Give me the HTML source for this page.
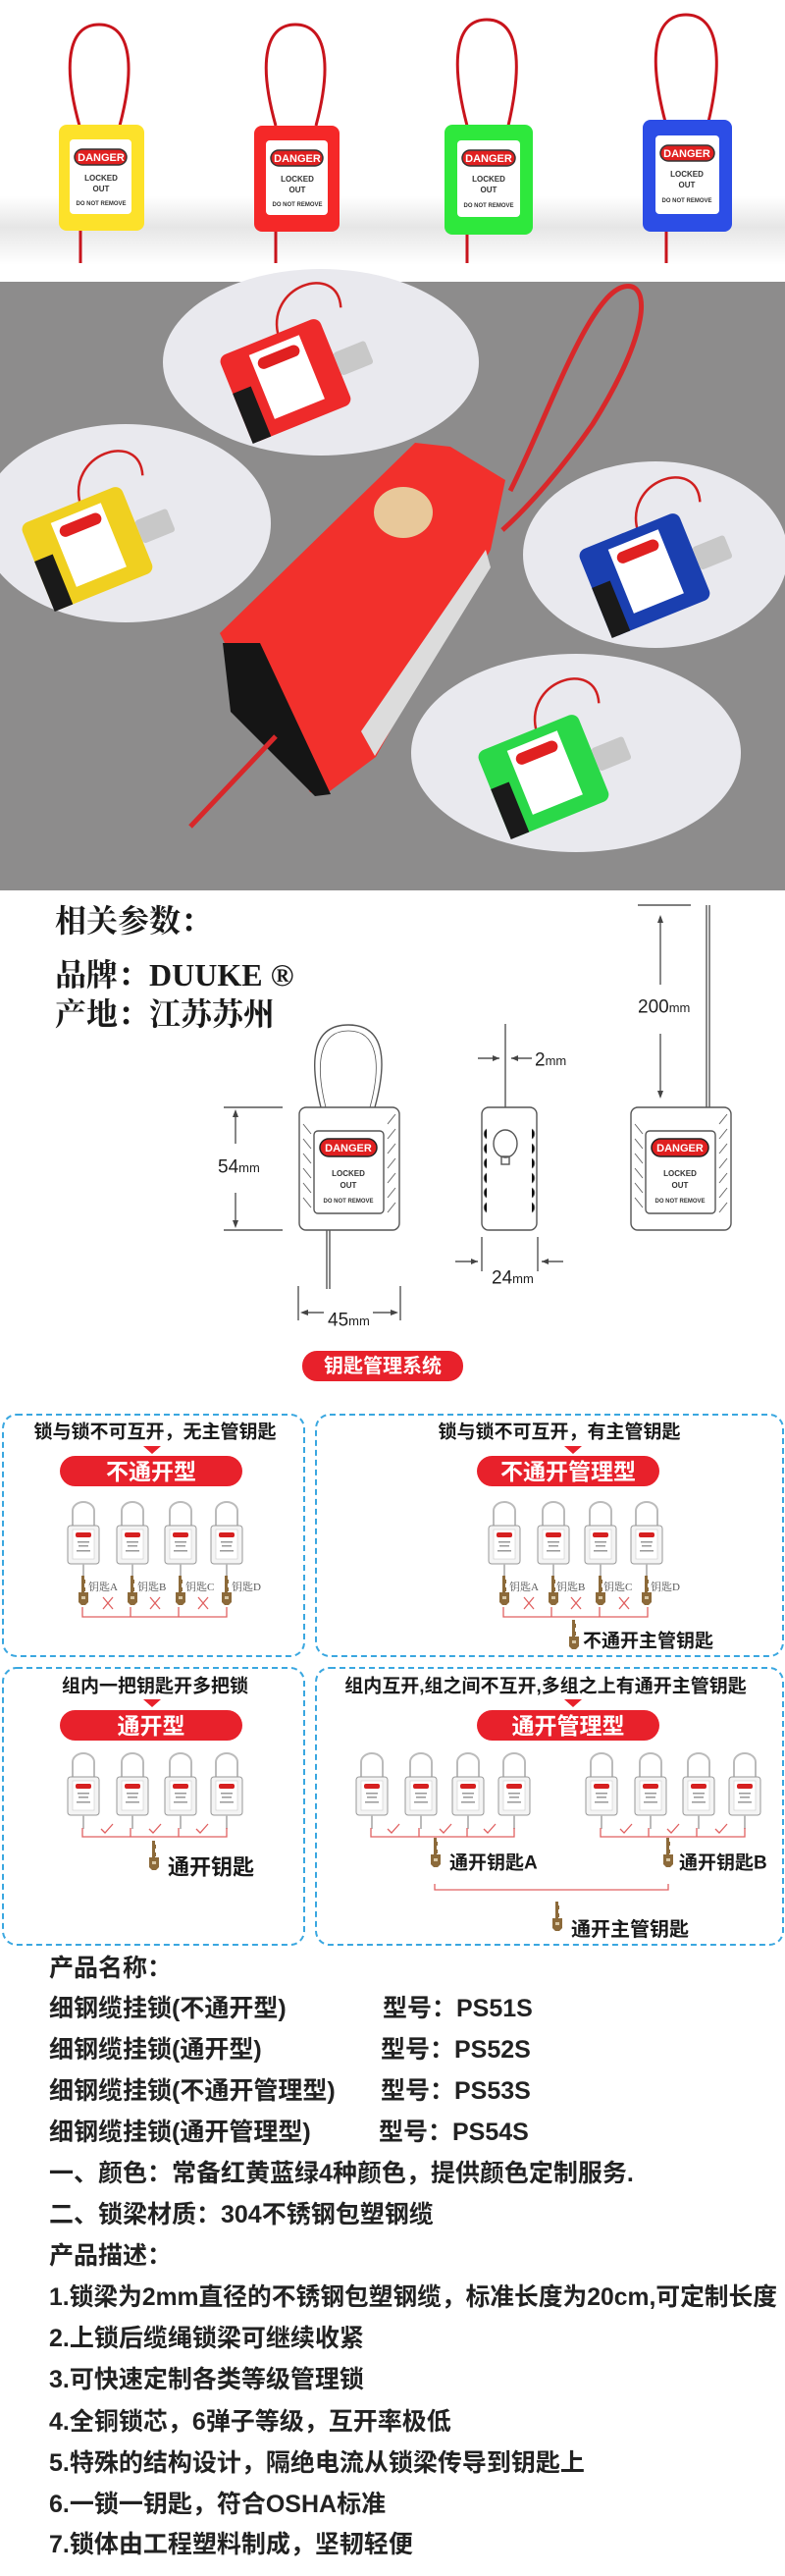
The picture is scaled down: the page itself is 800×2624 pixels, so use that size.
<!DOCTYPE html>
<html><head><meta charset="utf-8"><style>
html,body{margin:0;padding:0;background:#fff;}
svg{display:block;}
</style></head><body>
<svg width="800" height="2624" viewBox="0 0 800 2624" xmlns="http://www.w3.org/2000/svg" font-family="'Liberation Sans','Noto Sans CJK SC',sans-serif">
<defs>
<linearGradient id="floor" x1="0" y1="0" x2="0" y2="1">
<stop offset="0" stop-color="#fff"/><stop offset="0.45" stop-color="#e6e6e6"/><stop offset="1" stop-color="#fff"/>
</linearGradient>
<symbol id="sl" viewBox="0 0 36 80" width="36" height="80">
<path d="M7 26 V10 A11 9 0 0 1 29 10 V26" fill="none" stroke="#bbb" stroke-width="2"/>
<rect x="2" y="25" width="32" height="39" rx="3" fill="#f4f4f4" stroke="#999" stroke-width="1"/>
<rect x="7" y="29" width="22" height="30" fill="#fff" stroke="#ccc" stroke-width="0.6"/>
<rect x="10" y="32" width="16" height="5" rx="2" fill="#d62020"/>
<rect x="12" y="41" width="12" height="1.5" fill="#999"/><rect x="13" y="45" width="10" height="1.5" fill="#999"/><rect x="11" y="50" width="14" height="1.5" fill="#999"/>
<line x1="18" y1="64" x2="18" y2="78" stroke="#bbb" stroke-width="2"/>
</symbol>
<symbol id="key" viewBox="0 0 14 30" width="14" height="30">
<path d="M5 0 H8 V4 H9 V8 H8 V12 H9 V16 H8 V17 H12 V27 L9 30 H5 L2 27 V17 H5 Z" fill="#8c6a3a"/>
<rect x="5" y="21" width="4" height="3" fill="#d8c7a4"/>
</symbol>
</defs>

<rect x="0" y="200" width="800" height="70" fill="url(#floor)"/>
<g stroke="#c8141c" stroke-width="3" fill="none">
<path d="M81 128 C62 60 72 25 101 25 C130 25 140 60 122 128"/><line x1="82" y1="235" x2="82" y2="268"/>
<path d="M281 128 C262 60 272 25 301 25 C330 25 340 60 322 128"/><line x1="281" y1="236" x2="281" y2="268"/>
<path d="M476 128 C457 55 467 20 496 20 C525 20 535 55 518 128"/><line x1="476" y1="239" x2="476" y2="268"/>
<path d="M678 124 C659 52 669 15 699 15 C729 15 739 52 722 124"/><line x1="679" y1="236" x2="679" y2="268"/>
</g>
<g font-weight="bold" text-anchor="middle">
<g transform="translate(60,127)"><rect width="87" height="108" rx="8" fill="#fde22a"/><rect x="11" y="15" width="63" height="76" rx="4" fill="#fff"/><rect x="16" y="25" width="53" height="16" rx="8" fill="#e02020" stroke="#333" stroke-width="1.5"/><text x="43" y="37" font-size="11" fill="#fff">DANGER</text><text x="43" y="57" font-size="8" fill="#333">LOCKED</text><text x="43" y="68" font-size="8" fill="#333">OUT</text><text x="43" y="82" font-size="6" fill="#333">DO NOT REMOVE</text></g>
<g transform="translate(259,128)"><rect width="87" height="108" rx="8" fill="#f52828"/><rect x="12" y="15" width="63" height="76" rx="4" fill="#fff"/><rect x="17" y="25" width="53" height="16" rx="8" fill="#e02020" stroke="#333" stroke-width="1.5"/><text x="44" y="37" font-size="11" fill="#fff">DANGER</text><text x="44" y="57" font-size="8" fill="#333">LOCKED</text><text x="44" y="68" font-size="8" fill="#333">OUT</text><text x="44" y="82" font-size="6" fill="#333">DO NOT REMOVE</text></g>
<g transform="translate(453,127)"><rect width="90" height="112" rx="8" fill="#2ee83c"/><rect x="13" y="16" width="64" height="78" rx="4" fill="#fff"/><rect x="18" y="26" width="54" height="16" rx="8" fill="#e02020" stroke="#333" stroke-width="1.5"/><text x="45" y="38" font-size="11" fill="#fff">DANGER</text><text x="45" y="58" font-size="8" fill="#333">LOCKED</text><text x="45" y="69" font-size="8" fill="#333">OUT</text><text x="45" y="84" font-size="6" fill="#333">DO NOT REMOVE</text></g>
<g transform="translate(655,122)"><rect width="91" height="114" rx="8" fill="#2c4de6"/><rect x="13" y="16" width="65" height="80" rx="4" fill="#fff"/><rect x="18" y="26" width="55" height="16" rx="8" fill="#e02020" stroke="#333" stroke-width="1.5"/><text x="45" y="38" font-size="11" fill="#fff">DANGER</text><text x="45" y="58" font-size="8" fill="#333">LOCKED</text><text x="45" y="69" font-size="8" fill="#333">OUT</text><text x="45" y="84" font-size="6" fill="#333">DO NOT REMOVE</text></g>
</g>

<rect x="0" y="287" width="800" height="620" fill="#8d8c8c"/>
<ellipse cx="327" cy="369" rx="161" ry="95" fill="#e9e9ee"/>
<ellipse cx="128" cy="533" rx="148" ry="101" fill="#e9e9ee"/>
<ellipse cx="668" cy="565" rx="135" ry="95" fill="#e9e9ee"/>
<ellipse cx="587" cy="767" rx="168" ry="101" fill="#e9e9ee"/>
<path d="M520 500 C560 420 600 300 636 292 C664 286 662 340 604 432 C575 474 540 515 512 540" fill="none" stroke="#d8282a" stroke-width="5"/>
<polygon points="224,645 423,451 459,455 515,489 500,560 383,771 332,809 316,807 230,657" fill="#f2302c"/>
<polygon points="227,655 265,655 337,809 321,811 235,725" fill="#151515"/>
<polygon points="495,560 500,578 382,770 368,745" fill="#dcdcdc"/>
<ellipse cx="411" cy="522" rx="30" ry="26" fill="#e8c89a"/>
<line x1="281" y1="750" x2="194" y2="842" stroke="#d8282a" stroke-width="5"/>
<g transform="translate(290,385) rotate(-22)"><path d="M10 -40 C15 -95 95 -90 80 -45" fill="none" stroke="#d02020" stroke-width="2.5"/><rect x="-55" y="-45" width="110" height="95" rx="8" fill="#ee2a2a"/><rect x="-55" y="-5" width="20" height="55" fill="#1a1a1a"/><rect x="-25" y="-35" width="55" height="70" fill="#fff"/><rect x="-20" y="-28" width="45" height="12" rx="6" fill="#e02020"/><rect x="55" y="-5" width="35" height="25" rx="3" fill="#c8c8c8"/></g>
<g transform="translate(88,556) rotate(-22)"><path d="M10 -40 C15 -95 95 -90 80 -45" fill="none" stroke="#d02020" stroke-width="2.5"/><rect x="-55" y="-45" width="110" height="95" rx="8" fill="#f0d020"/><rect x="-55" y="-5" width="20" height="55" fill="#1a1a1a"/><rect x="-25" y="-35" width="55" height="70" fill="#fff"/><rect x="-20" y="-28" width="45" height="12" rx="6" fill="#e02020"/><rect x="55" y="-5" width="35" height="25" rx="3" fill="#c8c8c8"/></g>
<g transform="translate(656,583) rotate(-22)"><path d="M10 -40 C15 -95 95 -90 80 -45" fill="none" stroke="#d02020" stroke-width="2.5"/><rect x="-55" y="-45" width="110" height="95" rx="8" fill="#1a3fb0"/><rect x="-55" y="-5" width="20" height="55" fill="#1a1a1a"/><rect x="-25" y="-35" width="55" height="70" fill="#fff"/><rect x="-20" y="-28" width="45" height="12" rx="6" fill="#e02020"/><rect x="55" y="-5" width="35" height="25" rx="3" fill="#c8c8c8"/></g>
<g transform="translate(553,788) rotate(-22)"><path d="M10 -40 C15 -95 95 -90 80 -45" fill="none" stroke="#d02020" stroke-width="2.5"/><rect x="-55" y="-45" width="110" height="95" rx="8" fill="#2ad848"/><rect x="-55" y="-5" width="20" height="55" fill="#1a1a1a"/><rect x="-25" y="-35" width="55" height="70" fill="#fff"/><rect x="-20" y="-28" width="45" height="12" rx="6" fill="#e02020"/><rect x="55" y="-5" width="35" height="25" rx="3" fill="#c8c8c8"/></g>

<g fill="#1a1a1a" font-size="32" font-weight="bold" font-family="'Liberation Serif','Noto Serif CJK SC',serif" dominant-baseline="central">
<text x="56" y="938">相关参数：</text>
<text x="56" y="993">品牌：DUUKE ®</text>
<text x="56" y="1033">产地：江苏苏州</text>
</g>

<g stroke="#555" stroke-width="1.4" fill="none">
<path d="M327 1128 C315 1080 318 1044 355 1044 C392 1044 395 1080 382 1128"/>
<path d="M332 1128 C321 1084 325 1050 355 1050 C385 1050 389 1084 377 1128" stroke-width="0.8"/>
<rect x="305" y="1128" width="102" height="125" rx="7"/>
<rect x="320" y="1152" width="71" height="84" rx="4"/>
<line x1="333" y1="1253" x2="333" y2="1313"/><line x1="336" y1="1253" x2="336" y2="1313"/>
<line x1="228" y1="1128" x2="288" y2="1128"/><line x1="228" y1="1253" x2="288" y2="1253"/>
<line x1="240" y1="1134" x2="240" y2="1165"/><line x1="240" y1="1215" x2="240" y2="1247"/>
<line x1="304" y1="1310" x2="304" y2="1345"/><line x1="408" y1="1310" x2="408" y2="1345"/>
<line x1="310" y1="1337" x2="330" y2="1337"/><line x1="380" y1="1337" x2="400" y2="1337"/>
<rect x="491" y="1128" width="56" height="125" rx="7"/>
<line x1="515" y1="1043" x2="515" y2="1128"/>
<ellipse cx="515" cy="1165" rx="12" ry="14"/>
<rect x="511" y="1178" width="8" height="8"/>
<line x1="487" y1="1078" x2="509" y2="1078"/><line x1="521" y1="1078" x2="542" y2="1078"/>
<line x1="491" y1="1260" x2="491" y2="1295"/><line x1="548" y1="1260" x2="548" y2="1295"/>
<line x1="464" y1="1285" x2="487" y2="1285"/><line x1="552" y1="1285" x2="574" y2="1285"/>
<rect x="643" y="1128" width="102" height="125" rx="7"/>
<rect x="658" y="1152" width="71" height="84" rx="4"/>
<line x1="720" y1="922" x2="720" y2="1128"/><line x1="723" y1="922" x2="723" y2="1128"/>
<line x1="650" y1="922" x2="704" y2="922"/>
<line x1="673" y1="934" x2="673" y2="1003"/><line x1="673" y1="1053" x2="673" y2="1117"/>
</g>
<g stroke="#666" stroke-width="1">
<path d="M309 1145 l8 10 M309 1160 l8 10 M309 1175 l8 10 M309 1190 l8 10 M309 1205 l8 10 M309 1220 l8 10 M395 1145 l8 -10 M395 1160 l8 -10 M395 1175 l8 -10 M395 1190 l8 -10 M395 1205 l8 -10 M395 1220 l8 -10 M395 1235 l8 -10"/>
<path d="M647 1145 l8 10 M647 1160 l8 10 M647 1175 l8 10 M647 1190 l8 10 M647 1205 l8 10 M647 1220 l8 10 M733 1145 l8 -10 M733 1160 l8 -10 M733 1175 l8 -10 M733 1190 l8 -10 M733 1205 l8 -10 M733 1220 l8 -10 M733 1235 l8 -10"/>
<path d="M496 1150 a6 6 0 0 0 0 10 M496 1165 a6 6 0 0 0 0 10 M496 1180 a6 6 0 0 0 0 10 M496 1195 a6 6 0 0 0 0 10 M496 1210 a6 6 0 0 0 0 10 M496 1225 a6 6 0 0 0 0 10 M542 1150 a6 6 0 0 1 0 10 M542 1165 a6 6 0 0 1 0 10 M542 1180 a6 6 0 0 1 0 10 M542 1195 a6 6 0 0 1 0 10 M542 1210 a6 6 0 0 1 0 10 M542 1225 a6 6 0 0 1 0 10"/>
</g>
<g fill="#444">
<path d="M240 1130 l-3 8 h6z M240 1251 l-3 -8 h6z M306 1337 l8 -3 v6z M406 1337 l-8 -3 v6z M509 1078 l-7 -3 v6z M521 1078 l7 -3 v6z M487 1285 l-7 -3 v6z M552 1285 l7 -3 v6z M673 932 l-3 8 h6z M673 1119 l-3 -8 h6z"/>
</g>
<rect x="326" y="1160" width="58" height="18" rx="9" fill="#e02020" stroke="#222" stroke-width="1.5"/>
<rect x="664" y="1160" width="58" height="18" rx="9" fill="#e02020" stroke="#222" stroke-width="1.5"/>
<g font-weight="bold" text-anchor="middle" fill="#333">
<text x="355" y="1173" font-size="11" fill="#fff">DANGER</text><text x="355" y="1198" font-size="8">LOCKED</text><text x="355" y="1210" font-size="8">OUT</text><text x="355" y="1225" font-size="6">DO NOT REMOVE</text>
<text x="693" y="1173" font-size="11" fill="#fff">DANGER</text><text x="693" y="1198" font-size="8">LOCKED</text><text x="693" y="1210" font-size="8">OUT</text><text x="693" y="1225" font-size="6">DO NOT REMOVE</text>
</g>
<g fill="#222" font-size="19" font-family="'Liberation Sans Narrow','Liberation Sans',sans-serif" dominant-baseline="central">
<text x="222" y="1189">54<tspan font-size="13">mm</tspan></text>
<text x="334" y="1345">45<tspan font-size="13">mm</tspan></text>
<text x="545" y="1080">2<tspan font-size="13">mm</tspan></text>
<text x="501" y="1302">24<tspan font-size="13">mm</tspan></text>
<text x="650" y="1026">200<tspan font-size="13">mm</tspan></text>
</g>

<rect x="308" y="1376" width="164" height="31" rx="15" fill="#e8212b"/>
<text x="390" y="1392" font-size="20" font-weight="bold" fill="#fff" text-anchor="middle" dominant-baseline="central">钥匙管理系统</text>

<g fill="none" stroke="#3aa7e0" stroke-width="2" stroke-dasharray="6 4">
<rect x="3" y="1441" width="307" height="246" rx="14"/>
<rect x="322" y="1441" width="476" height="246" rx="14"/>
<rect x="3" y="1699" width="307" height="282" rx="14"/>
<rect x="322" y="1699" width="476" height="282" rx="14"/>
</g>
<g font-weight="bold" font-size="19" fill="#1a1a1a" text-anchor="middle" dominant-baseline="central">
<text x="158" y="1459">锁与锁不可互开，无主管钥匙</text>
<text x="570" y="1459">锁与锁不可互开，有主管钥匙</text>
<text x="158" y="1718">组内一把钥匙开多把锁</text>
<text x="556" y="1718">组内互开,组之间不互开,多组之上有通开主管钥匙</text>
</g>
<g fill="#e8212b">
<path d="M146 1473 h18 l-9 8z M575 1473 h18 l-9 8z M146 1731 h18 l-9 8z M575 1731 h18 l-9 8z"/>
<rect x="61" y="1483" width="186" height="31" rx="15.5"/>
<rect x="486" y="1483" width="186" height="31" rx="15.5"/>
<rect x="61" y="1742" width="186" height="31" rx="15.5"/>
<rect x="486" y="1742" width="186" height="31" rx="15.5"/>
</g>
<g font-weight="bold" font-size="23" fill="#fff" text-anchor="middle" dominant-baseline="central">
<text x="154" y="1499">不通开型</text>
<text x="579" y="1499">不通开管理型</text>
<text x="154" y="1758">通开型</text>
<text x="579" y="1758">通开管理型</text>
</g>

<use href="#sl" x="67" y="1529"/><use href="#sl" x="117" y="1529"/><use href="#sl" x="166" y="1529"/><use href="#sl" x="213" y="1529"/>
<use href="#sl" x="496" y="1529"/><use href="#sl" x="546" y="1529"/><use href="#sl" x="594" y="1529"/><use href="#sl" x="641" y="1529"/>
<use href="#sl" x="67" y="1785"/><use href="#sl" x="117" y="1785"/><use href="#sl" x="166" y="1785"/><use href="#sl" x="213" y="1785"/>
<use href="#sl" x="361" y="1785"/><use href="#sl" x="411" y="1785"/><use href="#sl" x="459" y="1785"/><use href="#sl" x="506" y="1785"/>
<use href="#sl" x="595" y="1785"/><use href="#sl" x="645" y="1785"/><use href="#sl" x="694" y="1785"/><use href="#sl" x="741" y="1785"/>

<use href="#key" x="78" y="1605"/><use href="#key" x="128" y="1605"/><use href="#key" x="177" y="1605"/><use href="#key" x="224" y="1605"/>
<use href="#key" x="507" y="1605"/><use href="#key" x="557" y="1605"/><use href="#key" x="605" y="1605"/><use href="#key" x="652" y="1605"/>
<use href="#key" x="578" y="1650"/>
<use href="#key" x="150" y="1875"/>
<use href="#key" x="437" y="1872"/><use href="#key" x="674" y="1872"/>
<use href="#key" x="561" y="1937"/>
<g font-size="11" fill="#555" font-family="'Liberation Serif','Noto Serif CJK SC',serif" dominant-baseline="central">
<text x="90" y="1617">钥匙A</text><text x="140" y="1617">钥匙B</text><text x="189" y="1617">钥匙C</text><text x="236" y="1617">钥匙D</text>
<text x="519" y="1617">钥匙A</text><text x="567" y="1617">钥匙B</text><text x="615" y="1617">钥匙C</text><text x="663" y="1617">钥匙D</text>
</g>
<g stroke="#e06060" stroke-width="1.3" fill="none">
<path d="M84 1637 V1647 H231 V1637 M133 1637 V1647 M182 1637 V1647"/>
<path d="M513 1637 V1647 H660 V1637 M562 1637 V1647 M611 1637 V1647"/>
<path d="M84 1862 V1871 H231 V1862 M133 1862 V1871 M182 1862 V1871"/>
<path d="M378 1862 V1871 H524 V1862 M427 1862 V1871 M476 1862 V1871"/>
<path d="M612 1862 V1871 H759 V1862 M661 1862 V1871 M710 1862 V1871"/>
<path d="M443 1919 V1925 H681 V1919"/>
<path d="M105 1627 l10 12 M115 1627 l-10 12 M153 1627 l10 12 M163 1627 l-10 12 M202 1627 l10 12 M212 1627 l-10 12"/>
<path d="M534 1627 l10 12 M544 1627 l-10 12 M582 1627 l10 12 M592 1627 l-10 12 M631 1627 l10 12 M641 1627 l-10 12"/>
<path d="M103 1863 l4 4 l8 -9 M152 1863 l4 4 l8 -9 M200 1863 l4 4 l8 -9"/>
<path d="M395 1863 l4 4 l8 -9 M448 1863 l4 4 l8 -9 M493 1863 l4 4 l8 -9"/>
<path d="M632 1863 l4 4 l8 -9 M680 1863 l4 4 l8 -9 M729 1863 l4 4 l8 -9"/>
</g>
<g font-weight="bold" fill="#1a1a1a" dominant-baseline="central">
<text x="594" y="1672" font-size="19">不通开主管钥匙</text>
<text x="171" y="1902" font-size="22">通开钥匙</text>
<text x="458" y="1898" font-size="19">通开钥匙A</text>
<text x="692" y="1898" font-size="19">通开钥匙B</text>
<text x="582" y="1966" font-size="20">通开主管钥匙</text>
</g>

<g font-weight="bold" font-size="25" fill="#222" dominant-baseline="central">
<text x="50" y="2005">产品名称：</text>
<text x="50" y="2046">细钢缆挂锁(不通开型)</text><text x="390" y="2046">型号：PS51S</text>
<text x="50" y="2088">细钢缆挂锁(通开型)</text><text x="388" y="2088">型号：PS52S</text>
<text x="50" y="2130">细钢缆挂锁(不通开管理型)</text><text x="388" y="2130">型号：PS53S</text>
<text x="50" y="2172">细钢缆挂锁(通开管理型)</text><text x="386" y="2172">型号：PS54S</text>
<text x="50" y="2214">一、颜色：常备红黄蓝绿4种颜色，提供颜色定制服务.</text>
<text x="50" y="2256">二、锁梁材质：304不锈钢包塑钢缆</text>
<text x="50" y="2298">产品描述：</text>
<text x="50" y="2340" textLength="742" lengthAdjust="spacingAndGlyphs">1.锁梁为2mm直径的不锈钢包塑钢缆，标准长度为20cm,可定制长度</text>
<text x="50" y="2382">2.上锁后缆绳锁梁可继续收紧</text>
<text x="50" y="2424">3.可快速定制各类等级管理锁</text>
<text x="50" y="2467">4.全铜锁芯，6弹子等级，互开率极低</text>
<text x="50" y="2509">5.特殊的结构设计，隔绝电流从锁梁传导到钥匙上</text>
<text x="50" y="2551">6.一锁一钥匙，符合OSHA标准</text>
<text x="50" y="2592">7.锁体由工程塑料制成，坚韧轻便</text>
</g>
</svg>
</body></html>
